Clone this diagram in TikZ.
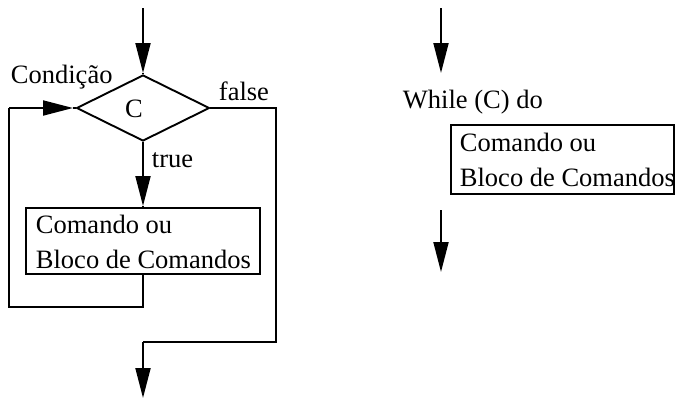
\documentclass[tikz,border=0pt]{standalone}
\usepackage{fontspec}
\setmainfont{Liberation Serif}
\usetikzlibrary{arrows.meta,shapes.geometric}

\begin{document}
\begin{tikzpicture}[x=1pt,y=-1pt,
  line width=1.9pt,
  every node/.style={font=\fontsize{26.5}{35}\selectfont},
  flow/.style={-{Triangle[length=30pt,width=15pt]}},
  decision/.style={draw,diamond,minimum width=133pt,minimum height=66pt,inner sep=0pt},
  block/.style={draw,rectangle,inner sep=0pt},
  txt/.style={anchor=base west,inner sep=0pt,align=left}]
\useasboundingbox (0,0) rectangle (675,399);

% --- flowchart of the while loop ---
\coordinate (in) at (143,8);
\node[decision] (cond) at (143,108) {};
\node[anchor=base,inner sep=0pt] (clabel) at (134,117) {C};
\node[txt] (condname) at (10,83) {Condição};
\node[txt] (falselbl) at (218,100) {false};
\node[txt] (truelbl) at (151,167) {true};

\node[block,minimum width=234pt,minimum height=66pt] (body) at (143,241) {};
% base anchor of a two-line node sits on its last line
\node[txt] (bodytext) at (35,268) {Comando ou\\Bloco de Comandos};

\coordinate (intip) at (143,73);
\coordinate (truetip) at (143,206);
\coordinate (loopA) at (143,307);
\coordinate (loopB) at (9,307);
\coordinate (loopC) at (9,108);
\coordinate (looptip) at (73,108);
\coordinate (exitA) at (276,108);
\coordinate (exitB) at (276,342);
\coordinate (exitC) at (143,342);
\coordinate (out) at (143,398);

\draw[flow] (in) -- (intip);
\draw (intip) -- (cond.north);
\draw[flow] (cond.south) -- (truetip);
\draw (truetip) -- (body.north);
\draw (body.south) -- (loopA) -- (loopB) -- (loopC);
\draw[flow] (loopC) -- (looptip);
\draw (looptip) -- (cond.west);
\draw (cond.east) -- (exitA) -- (exitB) -- (exitC);
\draw[flow] (exitC) -- (out);

% --- textual form ---
\coordinate (win) at (441,8);
\coordinate (wintip) at (441,73);
\node[txt] (whilelbl) at (402,108) {While (C) do};
\node[block,minimum width=223pt,minimum height=69pt] (wbody) at (562.5,159.5) {};
\node[txt] (wbodytext) at (459,186) {Comando ou\\Bloco de Comandos};
\coordinate (wout) at (441,210);
\coordinate (wouttip) at (441,272);

\draw[flow] (win) -- (wintip);
\draw[flow] (wout) -- (wouttip);
\end{tikzpicture}
\end{document}
